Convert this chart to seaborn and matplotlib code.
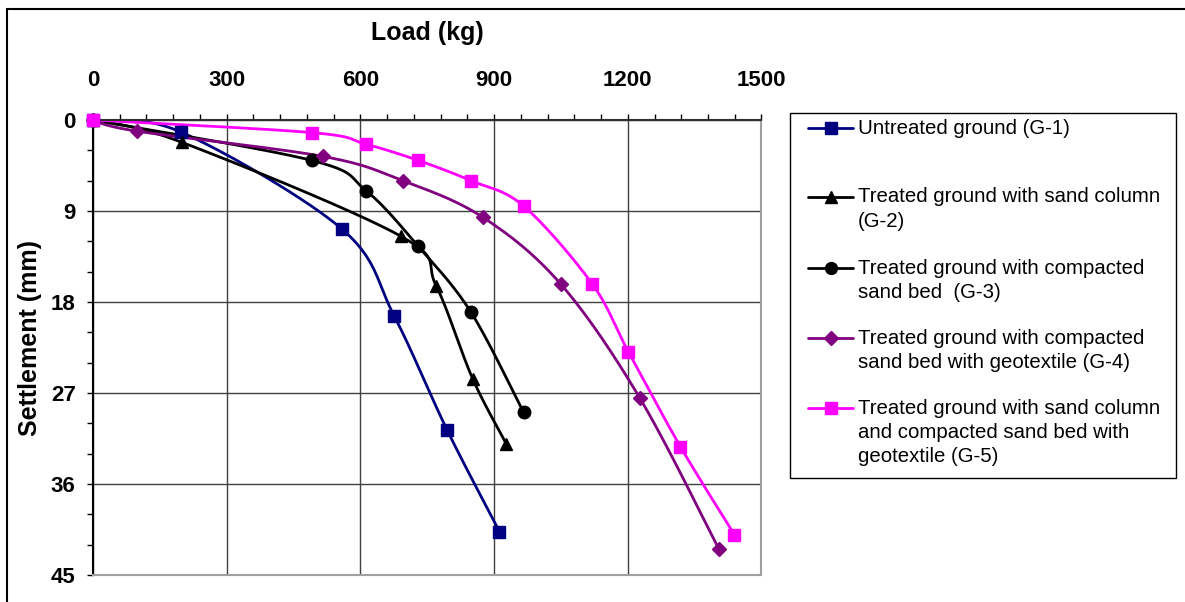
import numpy as np
import matplotlib
matplotlib.use("Agg")
import matplotlib.pyplot as plt
from matplotlib.lines import Line2D
from matplotlib.patches import Rectangle
import seaborn as sns

sns.set_style("white")
plt.rcParams['font.family'] = ['Liberation Sans', 'DejaVu Sans']
plt.rcParams['text.color'] = 'black'
plt.rcParams['axes.labelcolor'] = 'black'
plt.rcParams['xtick.color'] = 'black'
plt.rcParams['ytick.color'] = 'black'

# data: load (kg) vs settlement (mm)
g1_load = [0, 198, 559, 676, 795, 912]
g1_settle = [0, 1.2, 10.8, 19.4, 30.7, 40.7]

g2_load = [0, 199, 691, 770, 852, 927]
g2_settle = [0, 2.2, 11.5, 16.4, 25.6, 32.0]

g3_load = [0, 491, 613, 730, 848, 966]
g3_settle = [0, 4.0, 7.0, 12.5, 19.0, 28.9]

g4_load = [0, 98, 516, 695, 874, 1049, 1227, 1404]
g4_settle = [0, 1.1, 3.6, 6.0, 9.6, 16.2, 27.5, 42.4]

g5_load = [0, 492, 613, 730, 848, 966, 1120, 1201, 1318, 1439]
g5_settle = [0, 1.25, 2.4, 4.0, 6.0, 8.5, 16.2, 22.9, 32.3, 41.0]

labels = ["Untreated ground (G-1)",
          "Treated ground with sand column\n(G-2)",
          "Treated ground with compacted\nsand bed  (G-3)",
          "Treated ground with compacted\nsand bed with geotextile (G-4)",
          "Treated ground with sand column\nand compacted sand bed with\ngeotextile (G-5)"]

series = [
    (g1_load, g1_settle, "#000080", "s", 9),
    (g2_load, g2_settle, "black", "^", 9),
    (g3_load, g3_settle, "black", "o", 9),
    (g4_load, g4_settle, "#800080", "D", 7.5),
    (g5_load, g5_settle, "#FF00FF", "s", 9),
]


def smooth(x, y, n=40):
    # Excel-style smoothed line (Catmull-Rom bezier through the points)
    p = np.column_stack([x, y]).astype(float)
    p = np.vstack([p[0], p, p[-1]])
    t = np.linspace(0, 1, n)[:, None]
    segs = []
    for i in range(1, len(p) - 2):
        p0, p1, p2, p3 = p[i - 1], p[i], p[i + 1], p[i + 2]
        c1 = p1 + (p2 - p0) / 6
        c2 = p2 - (p3 - p1) / 6
        segs.append((1 - t)**3 * p1 + 3 * (1 - t)**2 * t * c1
                    + 3 * (1 - t) * t**2 * c2 + t**3 * p2)
    s = np.vstack(segs)
    return s[:, 0], s[:, 1]


W, H = 1185, 602
fig = plt.figure(figsize=(11.85, 6.02), dpi=100)
ax = fig.add_axes([93 / W, 1 - 575 / H, (761.5 - 93) / W, 455 / H])

for x, y, c, m, ms in series:
    sx, sy = smooth(x, y)
    sns.lineplot(x=sx, y=sy, sort=False, estimator=None, color=c, lw=2, ax=ax)
    ax.plot(x, y, linestyle="none", marker=m, markersize=ms, color=c,
            markeredgecolor=c, zorder=3, clip_on=False)

ax.set_xlim(0, 1500)
ax.set_ylim(45, 0)
ax.xaxis.tick_top()
ax.xaxis.set_label_position("top")
ax.set_xticks(np.arange(0, 1501, 300))
ax.set_xticks(np.arange(0, 1501, 60), minor=True)
ax.set_yticks(np.arange(0, 46, 9))
ax.set_yticks(np.arange(0, 46, 3), minor=True)
ax.grid(True, which="major", color="#404040", lw=1)
ax.tick_params(axis="x", which="both", top=True, bottom=False, length=4,
               width=1, direction="out", pad=17, labelsize=16)
ax.tick_params(axis="y", which="both", left=True, length=4.5, width=1,
               direction="out", pad=8, labelsize=16)
for lab in ax.get_xticklabels() + ax.get_yticklabels():
    lab.set_fontweight("bold")

ax.set_xlabel("Load (kg)", fontsize=18, fontweight="bold", va="center")
ax.xaxis.set_label_coords(0.5, (575 - 33) / 455)
ax.set_ylabel("Settlement (mm)", fontsize=18, fontweight="bold", va="center")
ax.yaxis.set_label_coords((30 - 93) / 668.5, (575 - 338) / 455)

ax.spines["left"].set_color("black")
ax.spines["top"].set_color("#303030")
ax.spines["right"].set_color("#A0A0A0")
ax.spines["bottom"].set_color("#A0A0A0")
for sp in ax.spines.values():
    sp.set_linewidth(1.5)

# legend box drawn like the Excel one
fig.add_artist(Rectangle((790 / W, 1 - 478 / H), (1176 - 790) / W, (478 - 113) / H,
                         transform=fig.transFigure, fill=False, ec="black", lw=1))
first_rows = [128, 197, 268, 338, 408]
for (x, y, c, m, ms), lab, row in zip(series, labels, first_rows):
    yy = 1 - row / H
    fig.add_artist(Line2D([808 / W, 853 / W], [yy, yy], transform=fig.transFigure,
                          color=c, lw=2))
    fig.add_artist(Line2D([831 / W], [yy], transform=fig.transFigure, color=c,
                          marker=m, markersize=ms * 0.95, markeredgecolor=c))
    for k, line in enumerate(lab.split("\n")):
        fig.text(858 / W, 1 - (row + 24.5 * k) / H, line, fontsize=14.7,
                 va="center", ha="left")

# outer chart frame (continues past right/bottom edge of the image)
fig.add_artist(Rectangle((7 / W, -0.2), 1.3, 1 - 9 / H + 0.2,
                         transform=fig.transFigure, fill=False, ec="black", lw=1.5))

fig.savefig("out.png", dpi=100)
